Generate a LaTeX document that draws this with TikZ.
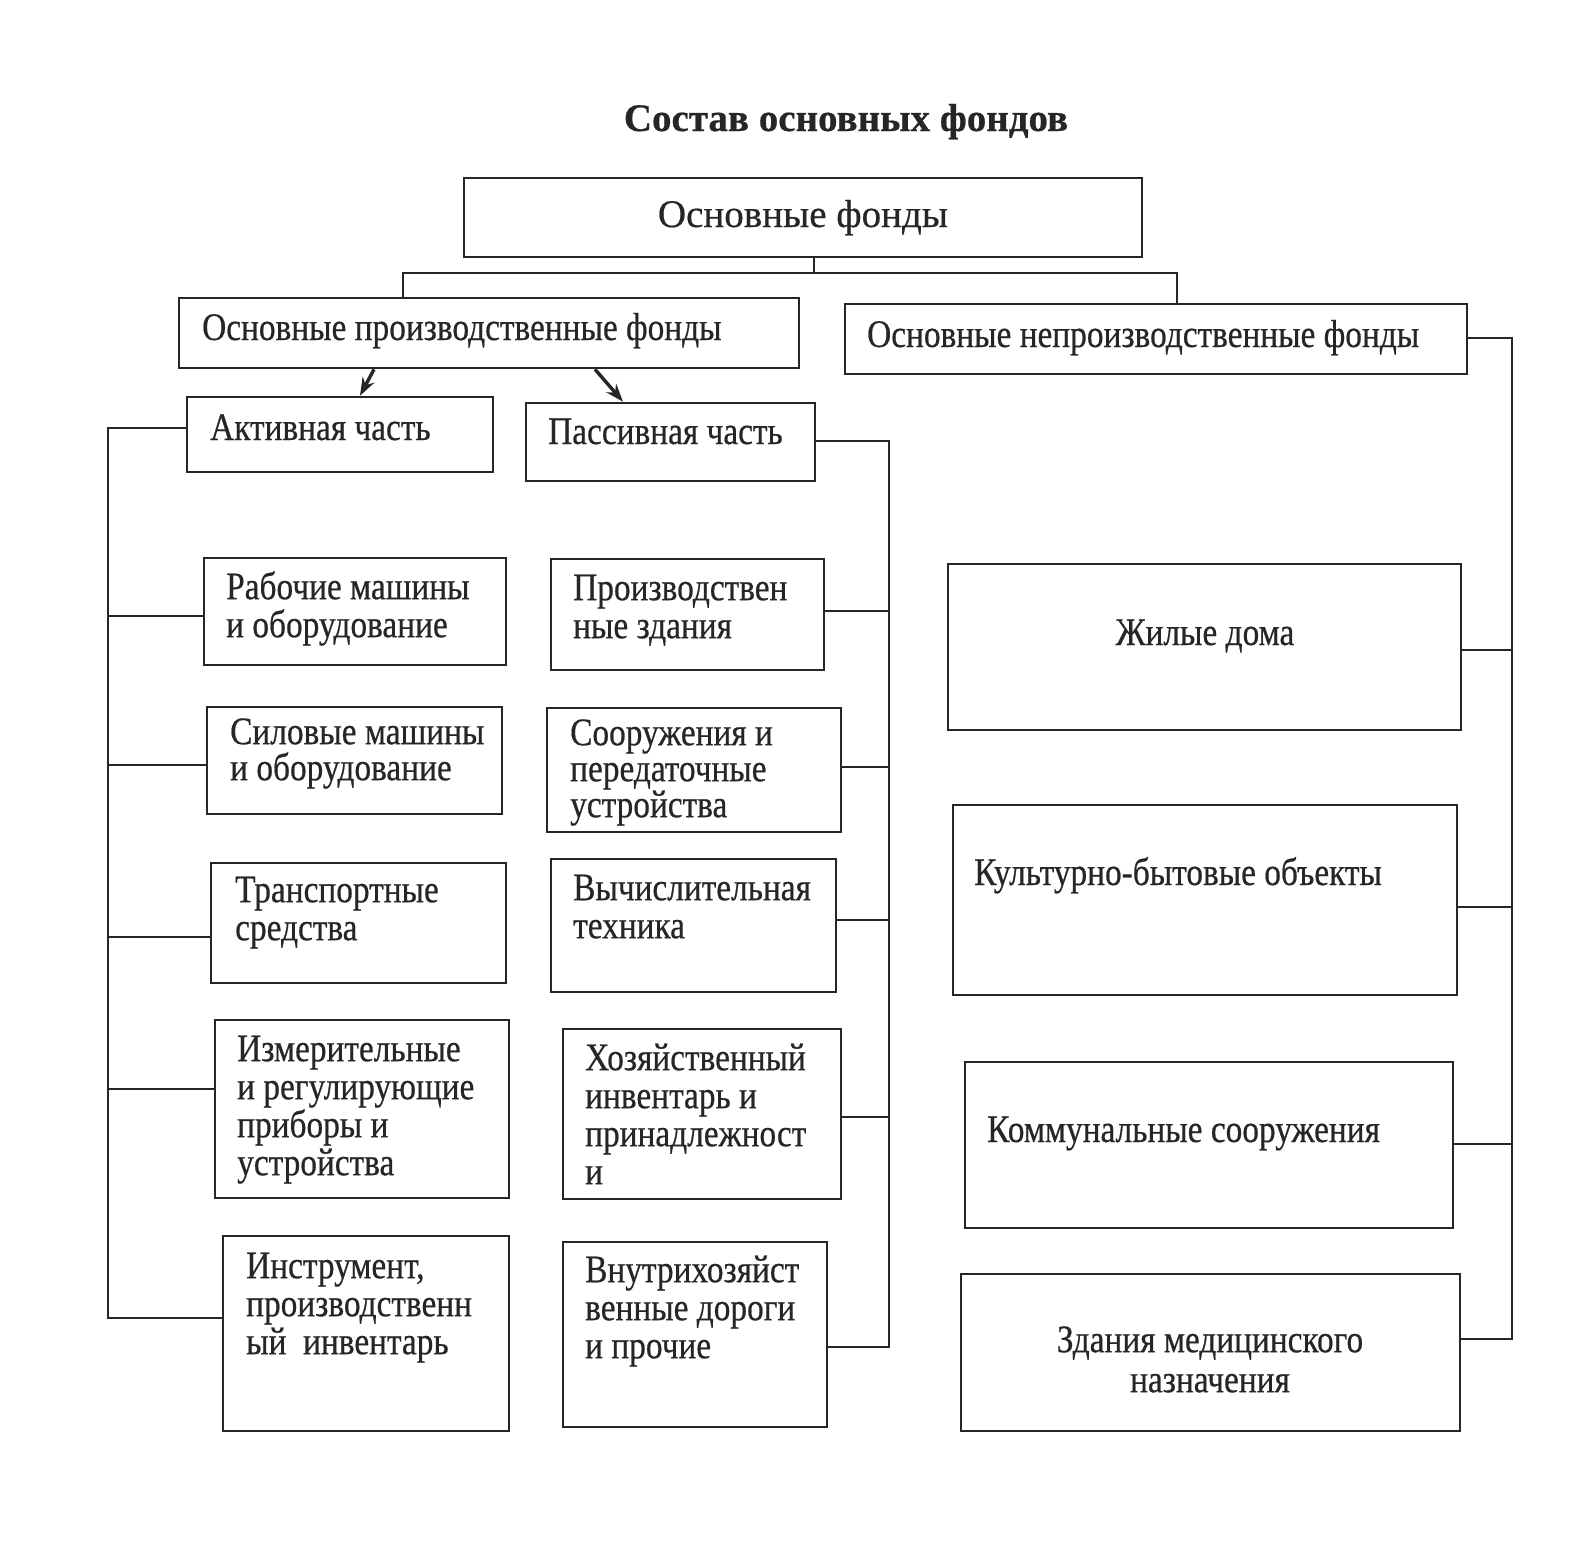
\documentclass[tikz,border=0pt]{standalone}
\usepackage{fontspec}
\setmainfont{Liberation Serif}[FakeStretch=0.855,FakeBold=0.5]
\newfontfamily\wideserif{Liberation Serif}[FakeBold=0.5]
\usetikzlibrary{arrows.meta}
\begin{document}
\begin{tikzpicture}[x=1pt,y=-1pt,
  box/.style={draw=black!85, line width=2.6pt, rectangle, inner sep=0pt},
  txt/.style={inner sep=0pt, text=black!85, font=\fontsize{39}{38}\selectfont, align=left, anchor=north west},
  ctxt/.style={inner sep=0pt, text=black!85, font=\fontsize{39}{38}\selectfont, align=center},
  conn/.style={draw=black!85, line width=2.6pt},
  arr/.style={draw=black!85, line width=3.4pt, -{Stealth[length=18pt,width=13pt]}}]
\useasboundingbox (0,0) rectangle (1580,1561);
\fill[white] (0,0) rectangle (1580,1561);
\def\sr{\rule{0pt}{30pt}}
% title
\node[inner sep=0pt, text=black!85, font=\wideserif\fontsize{39}{38}\selectfont\bfseries, anchor=base] (title) at (846,131) {Состав основных фондов};
% top level
\node[box, minimum width=678pt, minimum height=79pt] (root) at (803,217.5) {};
\node[ctxt, anchor=base, font=\wideserif\fontsize{39}{38}\selectfont] (roott) at (803,227) {Основные фонды};
\node[box, minimum width=620pt, minimum height=70pt] (opf) at (489,333) {};
\node[txt, anchor=base west] (opft) at (202,340) {Основные производственные фонды};
\node[box, minimum width=622pt, minimum height=70pt] (onpf) at (1156,339) {};
\node[txt, anchor=base west] (onpft) at (867,347) {Основные непроизводственные фонды};
\node[box, minimum width=306pt, minimum height=75pt] (act) at (340,434.5) {};
\node[txt, anchor=base west] (actt) at (210,440) {Активная часть};
\node[box, minimum width=289pt, minimum height=78pt] (pas) at (670.5,442) {};
\node[txt, anchor=base west] (past) at (548,444) {Пассивная часть};
% left column
\node[box, minimum width=302pt, minimum height=107pt] (L1) at (355,611.5) {};
\node[txt] (L1t) at (226,569) {\sr Рабочие машины\\и оборудование};
\node[box, minimum width=295pt, minimum height=107pt] (L2) at (354.5,760.5) {};
\node[txt, font=\fontsize{39}{36}\selectfont] (L2t) at (230,714) {\sr Силовые машины\\и оборудование};
\node[box, minimum width=295pt, minimum height=120pt] (L3) at (358.5,923) {};
\node[txt] (L3t) at (235,872) {\sr Транспортные\\средства};
\node[box, minimum width=294pt, minimum height=178pt] (L4) at (362,1109) {};
\node[txt] (L4t) at (237,1031) {\sr Измерительные\\и регулирующие\\приборы и\\устройства};
\node[box, minimum width=286pt, minimum height=195pt] (L5) at (366,1333.5) {};
\node[txt] (L5t) at (246,1248) {\sr Инструмент,\\производственн\\ый\ \ инвентарь};
% middle column
\node[box, minimum width=273pt, minimum height=111pt] (M1) at (687.5,614.5) {};
\node[txt] (M1t) at (573,570) {\sr Производствен\\ные здания};
\node[box, minimum width=294pt, minimum height=124pt] (M2) at (694,770) {};
\node[txt, font=\fontsize{39}{36}\selectfont] (M2t) at (570,715) {\sr Сооружения и\\передаточные\\устройства};
\node[box, minimum width=285pt, minimum height=133pt] (M3) at (693.5,925.5) {};
\node[txt] (M3t) at (573,870) {\sr Вычислительная\\техника};
\node[box, minimum width=278pt, minimum height=170pt] (M4) at (702,1114) {};
\node[txt] (M4t) at (585,1040) {\sr Хозяйственный\\инвентарь и\\принадлежност\\и};
\node[box, minimum width=264pt, minimum height=185pt] (M5) at (695,1334.5) {};
\node[txt] (M5t) at (585,1252) {\sr Внутрихозяйст\\венные дороги\\и прочие};
% right column
\node[box, minimum width=513pt, minimum height=166pt] (R1) at (1204.5,647) {};
\node[ctxt, anchor=base] (R1t) at (1205,645) {Жилые дома};
\node[box, minimum width=504pt, minimum height=190pt] (R2) at (1205,900) {};
\node[txt, anchor=base west] (R2t) at (974,885) {Культурно-бытовые объекты};
\node[box, minimum width=488pt, minimum height=166pt] (R3) at (1209,1145) {};
\node[txt, anchor=base west] (R3t) at (987,1142) {Коммунальные сооружения};
\node[box, minimum width=499pt, minimum height=157pt] (R4) at (1210.5,1352.5) {};
\node[ctxt, anchor=north, font=\fontsize{39}{40}\selectfont] (R4t) at (1210,1322) {\sr Здания медицинского\\назначения};
% top connectors
\coordinate (bl) at (403,273);
\coordinate (br) at (1177,273);
\draw[conn] (root.south -| 814,0) -- (814,273);
\draw[conn] (opf.north -| bl) -- (bl) -- (br) -- (onpf.north -| br);
% arrows
\draw[arr] (opf.south -| 374,0) -- (act.north -| 360,0);
\draw[arr] (opf.south -| 595,0) -- (pas.north -| 623,0);
% left bus
\coordinate (lbt) at (108,428);
\coordinate (lbb) at (108,1318);
\draw[conn] (act.west |- lbt) -- (lbt) -- (lbb) -- (L5.west |- lbb);
\draw[conn] (108,616) -- (L1.west |- 0,616);
\draw[conn] (108,765) -- (L2.west |- 0,765);
\draw[conn] (108,937) -- (L3.west |- 0,937);
\draw[conn] (108,1089) -- (L4.west |- 0,1089);
% middle bus
\coordinate (mbt) at (889,441);
\coordinate (mbb) at (889,1347);
\draw[conn] (pas.east |- mbt) -- (mbt) -- (mbb) -- (M5.east |- mbb);
\draw[conn] (M1.east |- 0,611) -- (889,611);
\draw[conn] (M2.east |- 0,767) -- (889,767);
\draw[conn] (M3.east |- 0,920) -- (889,920);
\draw[conn] (M4.east |- 0,1117) -- (889,1117);
% right bus
\coordinate (rbt) at (1512,338);
\coordinate (rbb) at (1512,1339);
\draw[conn] (onpf.east |- rbt) -- (rbt) -- (rbb) -- (R4.east |- rbb);
\draw[conn] (R1.east |- 0,650) -- (1512,650);
\draw[conn] (R2.east |- 0,907) -- (1512,907);
\draw[conn] (R3.east |- 0,1144) -- (1512,1144);
\end{tikzpicture}
\end{document}
